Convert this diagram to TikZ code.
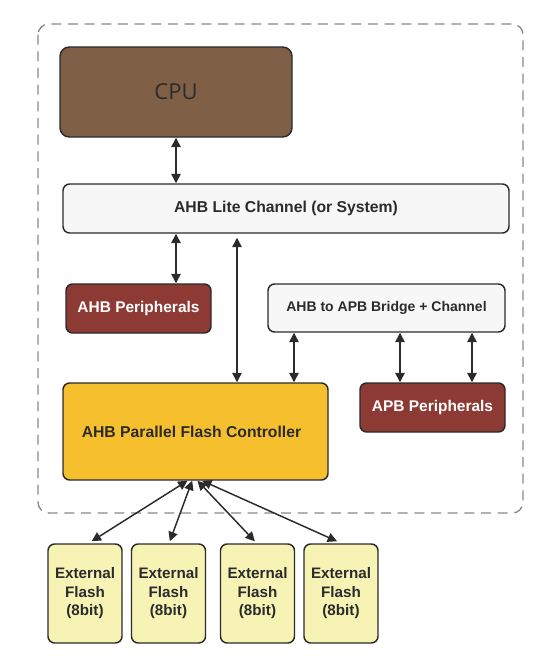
\documentclass[tikz,border=0pt]{standalone}
\usepackage{fontspec}
\setmainfont{Liberation Sans}
\newfontfamily\cpufont{Open Sans}
\usetikzlibrary{arrows.meta}
\definecolor{cpubrown}{HTML}{7F5F45}
\definecolor{litegray}{HTML}{F7F7F7}
\definecolor{perired}{HTML}{8E3A34}
\definecolor{ctrlgold}{HTML}{F5BF2E}
\definecolor{flashyel}{HTML}{F7F3B5}
\definecolor{edge}{HTML}{2B2B2B}
\definecolor{framegray}{HTML}{888888}
\tikzset{
  box/.style={draw=edge, line width=1.1pt, rounded corners=5pt, align=center, inner sep=0pt, text=edge, font=\bfseries},
  conn/.style={draw=edge, line width=1.1pt, {Triangle[length=7pt,width=7pt]}-{Triangle[length=7pt,width=7pt]}},
}
\begin{document}
\begin{tikzpicture}[x=0.75pt,y=-0.75pt]
\useasboundingbox (0,0) rectangle (560,660);
\draw[framegray, line width=1pt, dash pattern=on 7.5pt off 5pt, rounded corners=8pt] (38,24) rectangle (523,513);

\node[box, fill=cpubrown, rounded corners=7pt, minimum width=174pt, minimum height=67.5pt, font=\cpufont\fontsize{16.5}{19}\selectfont, text=edge] (cpu) at (176,92) {CPU};
\node[box, fill=litegray, minimum width=334.5pt, minimum height=36.75pt, font=\bfseries\fontsize{11.8}{14}\selectfont] (lite) at (286,208.5) {AHB Lite Channel (or System)};
\node[box, fill=perired, minimum width=108.75pt, minimum height=36.75pt, text=white, font=\bfseries\fontsize{11.6}{14}\selectfont] (ahbp) at (138.5,308.5) {AHB Peripherals};
\node[box, fill=litegray, minimum width=177.75pt, minimum height=36pt, font=\bfseries\fontsize{10.5}{13}\selectfont] (bridge) at (386.5,308) {AHB to APB Bridge + Channel};
\node[box, fill=ctrlgold, minimum width=198.75pt, minimum height=72.75pt, font=\bfseries\fontsize{11.8}{14}\selectfont] (ctrl) at (195.5,431.5) {\raisebox{-2pt}{AHB Parallel Flash Controller}\hspace{6pt}};
\node[box, fill=perired, minimum width=108.75pt, minimum height=36.75pt, text=white, font=\bfseries\fontsize{11.6}{14}\selectfont] (apbp) at (432.5,407.5) {APB Peripherals};

\foreach \n/\xc in {f1/85, f2/168.5, f3/257.5, f4/341}{
  \node[box, fill=flashyel, minimum width=55.5pt, minimum height=74.25pt, font=\bfseries\fontsize{11.4}{13.9}\selectfont] (\n) at (\xc,593.5) {External\\Flash\\(8bit)};
}

\coordinate (xa) at (176,0);
\coordinate (xb) at (237,0);
\coordinate (xc) at (294,0);
\coordinate (xd) at (400,0);
\coordinate (xe) at (472,0);

\draw[conn] (cpu.south -| xa) -- (lite.north -| xa);
\draw[conn] (lite.south -| xa) -- (ahbp.north -| xa);
\draw[conn, shorten <=3pt] (lite.south -| xb) -- (ctrl.north -| xb);
\draw[conn] (bridge.south -| xc) -- (ctrl.north -| xc);
\draw[conn] (bridge.south -| xd) -- (apbp.north -| xd);
\draw[conn] (bridge.south -| xe) -- (apbp.north -| xe);

\draw[conn] ([xshift=-6pt]ctrl.south) -- ([xshift=5pt,yshift=1.5pt]f1.north);
\draw[conn] ([xshift=-2.5pt]ctrl.south) -- ([xshift=1pt,yshift=1.5pt]f2.north);
\draw[conn] ([xshift=1.5pt]ctrl.south) -- ([xshift=-2pt,yshift=1.5pt]f3.north);
\draw[conn] ([xshift=5pt]ctrl.south) -- ([xshift=-3pt,yshift=1.5pt]f4.north);
\end{tikzpicture}
\end{document}
